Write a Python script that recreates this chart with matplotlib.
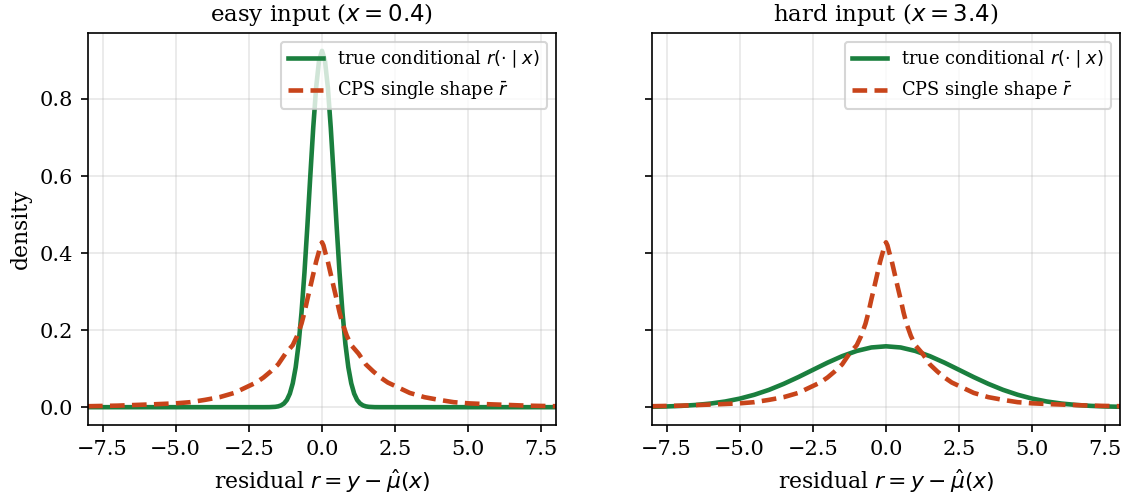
import numpy as np
import matplotlib
matplotlib.use("Agg")
import matplotlib.pyplot as plt

plt.rcParams['font.family'] = ['DejaVu Serif']
plt.rcParams['mathtext.fontset'] = 'dejavusans'

# residual grid (non-negative half; curves are symmetric about 0)
r_easy_true = [0.0, 0.1, 0.2, 0.3, 0.4, 0.5, 0.6, 0.7, 0.8, 0.9, 1.0, 1.1, 1.2,
               1.3, 1.4, 1.5, 1.6, 1.8, 2.0, 3.0, 5.0, 8.0]
d_easy_true = [0.925, 0.900, 0.830, 0.725, 0.600, 0.470, 0.349, 0.246, 0.164,
               0.1035, 0.0619, 0.0351, 0.0188, 0.0096, 0.0046, 0.0021, 0.0009,
               0.0001, 0.0, 0.0, 0.0, 0.0]

r_hard_true = [0.0, 0.5, 1.0, 1.5, 2.0, 2.5, 3.0, 3.5, 4.0, 4.5, 5.0, 5.5, 6.0,
               6.5, 7.0, 7.5, 8.0]
d_hard_true = [0.158, 0.155, 0.146, 0.1324, 0.1155, 0.0968, 0.0780, 0.0605,
               0.0450, 0.0323, 0.0222, 0.0147, 0.0094, 0.0058, 0.0034, 0.0019,
               0.0010]

r_cps = [0.0, 0.05, 0.1, 0.2, 0.3, 0.4, 0.5, 0.6, 0.7, 0.85, 1.0, 1.25, 1.5,
         1.75, 2.0, 2.25, 2.5, 3.0, 3.5, 4.0, 4.5, 5.0, 5.75, 7.0, 8.0]
d_cps = [0.428, 0.420, 0.405, 0.378, 0.345, 0.312, 0.280, 0.246, 0.217, 0.185,
         0.161, 0.139, 0.111, 0.093, 0.077, 0.064, 0.055, 0.037, 0.026, 0.019,
         0.013, 0.010, 0.0075, 0.004, 0.0025]

titles = [r'easy input ($x = 0.4$)', r'hard input ($x = 3.4$)']
xticks = [-7.5, -5.0, -2.5, 0.0, 2.5, 5.0, 7.5]
yticks = [0.0, 0.2, 0.4, 0.6, 0.8]

GREEN = '#1a7f3e'
RED = '#c8441a'


def full(r, d):
    r = np.asarray(r, float)
    d = np.asarray(d, float)
    return np.concatenate([-r[:0:-1], r]), np.concatenate([d[:0:-1], d])


fig, axes = plt.subplots(1, 2, figsize=(1129 / 150, 497 / 150), dpi=150, sharey=True)
fig.subplots_adjust(left=88 / 1129, right=1120 / 1129, top=1 - 33 / 497,
                    bottom=1 - 425 / 497, wspace=96 / 468)

true_sets = [(r_easy_true, d_easy_true), (r_hard_true, d_hard_true)]
for ax, (rt, dt), title in zip(axes, true_sets, titles):
    x1, y1 = full(rt, dt)
    x2, y2 = full(r_cps, d_cps)
    ax.plot(x1, y1, color=GREEN, lw=2.2, label=r'true conditional $r(\cdot\mid x)$')
    ax.plot(x2, y2, color=RED, lw=2.2, ls=(0, (3.2, 1.6)), label=r'CPS single shape $\bar{r}$')
    ax.set_xlim(-8, 8)
    ax.set_xticks(xticks)
    ax.set_yticks(yticks)
    ax.grid(True, color='#b0b0b0', alpha=0.3, lw=0.8)
    ax.set_title(title, fontsize=11)
    ax.set_xlabel(r'residual $r = y - \hat{\mu}(x)$', fontsize=10.5)
    ax.tick_params(labelsize=10)
    ax.legend(loc='upper right', fontsize=8.5)
axes[0].set_ylabel('density', fontsize=10.5)

fig.savefig('out.png', dpi=150)
